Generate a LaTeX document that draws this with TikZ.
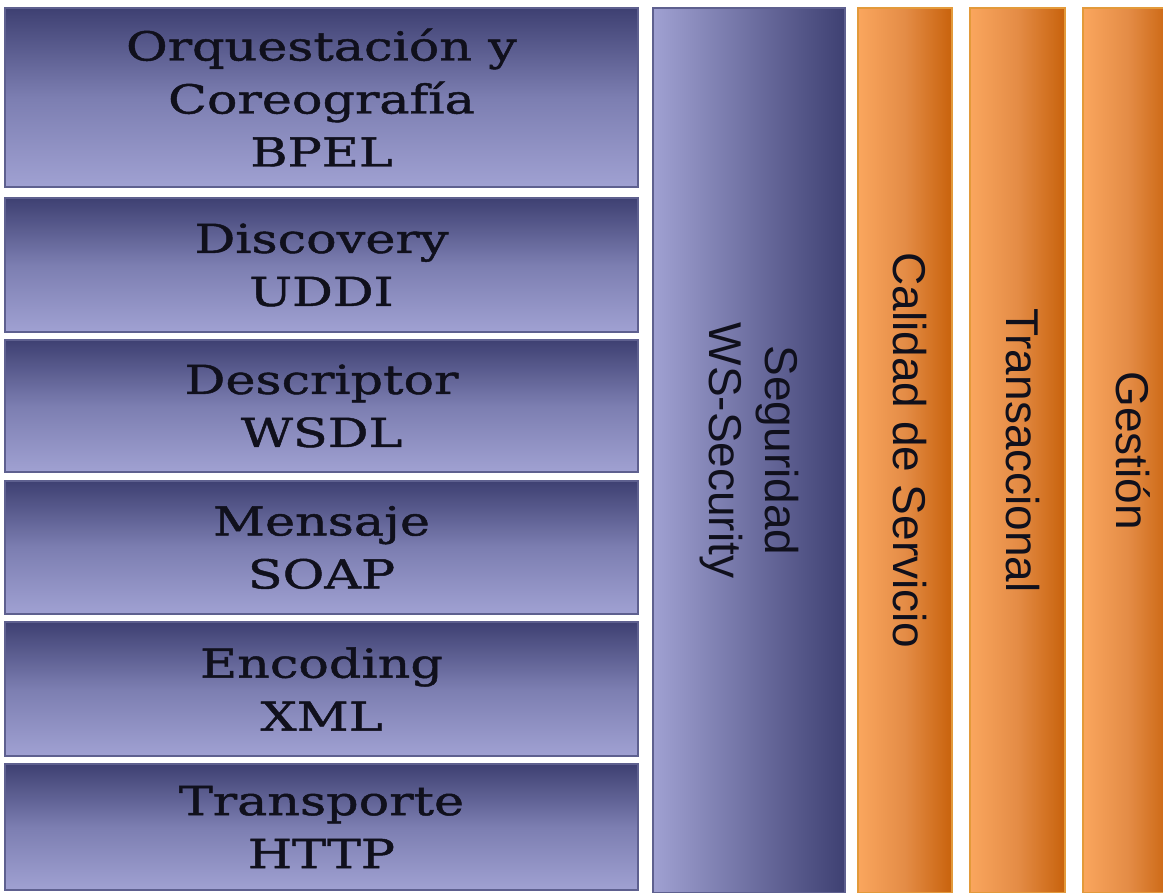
\documentclass[tikz,border=0pt]{standalone}
\usepackage{fontspec}
\newfontfamily\slabfont[FakeStretch=1.27,FakeBold=1.2]{DejaVu Serif}
\newfontfamily\columnfont{Liberation Sans}
\usetikzlibrary{shadings}

\definecolor{navyTop}{HTML}{3E4072}
\definecolor{navyMid}{HTML}{7C7EB1}
\definecolor{navyBottom}{HTML}{A0A1D2}
\definecolor{navyEdge}{HTML}{5E608F}
\definecolor{inkColor}{HTML}{10101C}
\definecolor{orangeLight}{HTML}{FAA65E}
\definecolor{orangeMid}{HTML}{E48C46}
\definecolor{orangeDark}{HTML}{C8620C}
\definecolor{orangeEdge}{HTML}{E39A3A}

% light on the left, darkening steadily towards the right edge
\pgfdeclarehorizontalshading{orangebar}{100bp}{%
  color(0bp)=(orangeLight); color(25bp)=(orangeLight);
  color(50bp)=(orangeMid); color(75bp)=(orangeDark);
  color(100bp)=(orangeDark)}
\pgfdeclarehorizontalshading{navybar}{100bp}{%
  color(0bp)=(navyBottom); color(25bp)=(navyBottom);
  color(75bp)=(navyTop); color(100bp)=(navyTop)}

\tikzset{
  layer/.style={draw=navyEdge, line width=1.2pt, inner sep=0pt,
    top color=navyTop, bottom color=navyBottom, middle color=navyMid,
    minimum width=633pt, align=center, text=inkColor,
    font=\slabfont\fontsize{40}{53}\selectfont},
  security/.style={draw=navyEdge, line width=1.2pt, inner sep=0pt,
    shading=navybar,
    minimum width=192pt, minimum height=885pt, text=inkColor,
    font=\columnfont\fontsize{46}{56}\selectfont},
  pillar/.style={draw=orangeEdge, line width=1.4pt, inner sep=0pt,
    shading=orangebar,
    minimum height=885pt, text=inkColor,
    font=\columnfont\fontsize{46}{56}\selectfont}
}

\newcommand{\sideways}[1]{\rotatebox{-90}{\begin{tabular}{@{}c@{}}#1\end{tabular}}}

\begin{document}
\begin{tikzpicture}[x=1pt, y=-1pt]
  \useasboundingbox[fill=white] (0,0) rectangle (1163,893);

  % protocol stack, top to bottom
  \node[layer, minimum height=179pt] (bpel) at (321.5,97.5)
    {Orquestación y\\Coreografía\\BPEL};
  \node[layer, minimum height=134pt] (uddi) at (321.5,265)
    {Discovery\\UDDI};
  \node[layer, minimum height=132pt] (wsdl) at (321.5,406)
    {Descriptor\\WSDL};
  \node[layer, minimum height=133pt] (soap) at (321.5,547.5)
    {Mensaje\\SOAP};
  \node[layer, minimum height=134pt] (xml) at (321.5,689)
    {Encoding\\XML};
  \node[layer, minimum height=126pt] (http) at (321.5,827)
    {Transporte\\HTTP};

  % cross-cutting columns
  \node[security] (sec) at (749,450.5)
    {\sideways{Seguridad\\WS-Security}};
  \node[pillar, minimum width=94pt] (qos) at (905,450.5)
    {\sideways{Calidad de Servicio}};
  \node[pillar, minimum width=95pt] (trans) at (1017.5,450.5)
    {\sideways{Transaccional}};
  \node[pillar, minimum width=90pt] (gest) at (1128,450.5)
    {\sideways{Gestión}};
\end{tikzpicture}
\end{document}
